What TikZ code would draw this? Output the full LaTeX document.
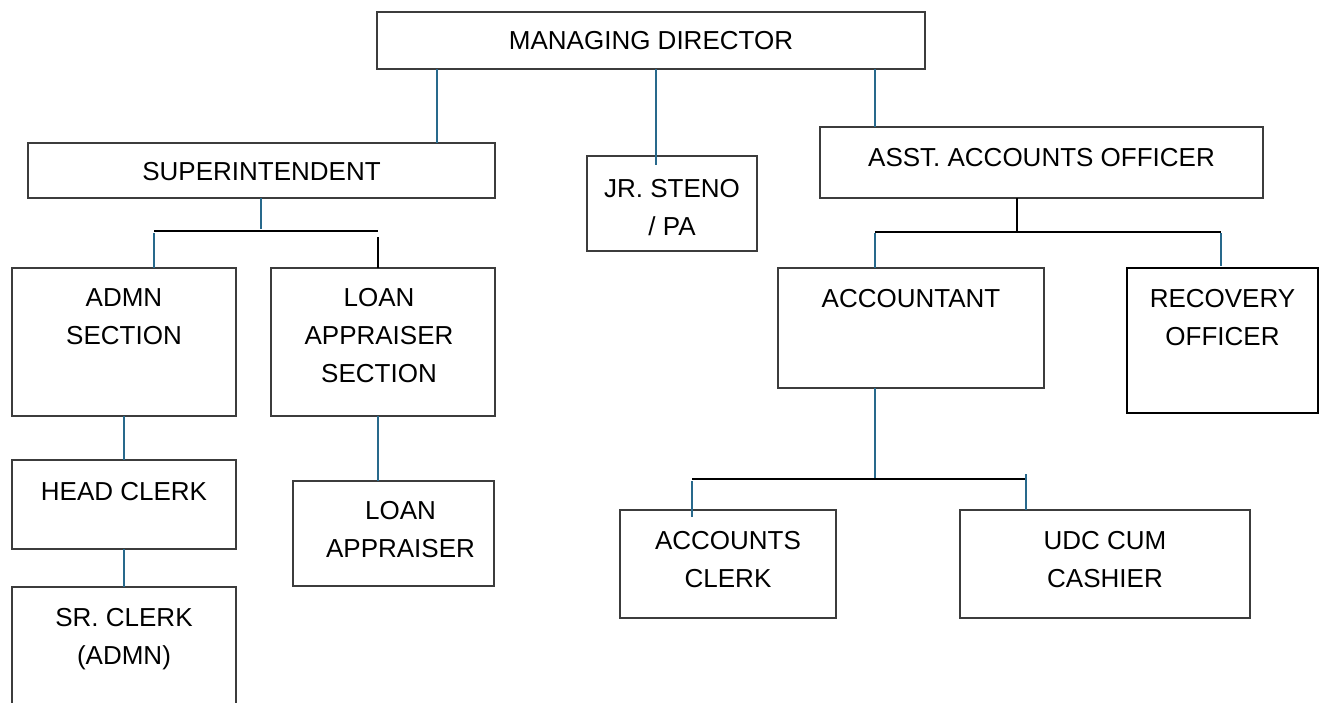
\documentclass[tikz,border=0pt]{standalone}
\usepackage{fontspec}
\setmainfont{Liberation Sans}
\usetikzlibrary{calc}
\definecolor{boxgray}{RGB}{60,60,60}
\definecolor{connblue}{RGB}{40,105,140}
\begin{document}
\begin{tikzpicture}[x=1pt,y=-1pt,
  box/.style={draw=boxgray, line width=1.4pt, inner sep=0pt, outer sep=0pt, anchor=north west, fill=none},
  txt/.style={font=\fontsize{26pt}{38pt}\selectfont, align=center, inner sep=0pt, anchor=north, text=black},
  conn/.style={draw=connblue, line width=1.3pt},
  bus/.style={draw=black, line width=2pt}]
\useasboundingbox (0,0) rectangle (1327,702);
\clip (0,0) rectangle (1327,702);
% boxes
\node[box, minimum width=548pt, minimum height=57pt] (md) at (377,12) {};
\node[box, minimum width=467pt, minimum height=55pt] (sup) at (28,143) {};
\node[box, minimum width=170pt, minimum height=95pt] (steno) at (587,156) {};
\node[box, minimum width=443pt, minimum height=71pt] (aao) at (820,127) {};
\node[box, minimum width=224pt, minimum height=148pt] (admn) at (12,268) {};
\node[box, minimum width=224pt, minimum height=148pt] (loan) at (271,268) {};
\node[box, minimum width=224pt, minimum height=89pt] (head) at (12,460) {};
\node[box, minimum width=224pt, minimum height=140pt] (sr) at (12,587) {};
\node[box, minimum width=201pt, minimum height=105pt] (la) at (293,481) {};
\node[box, minimum width=266pt, minimum height=120pt] (acc) at (778,268) {};
\node[box, draw=black, line width=2pt, minimum width=191pt, minimum height=145pt] (rec) at (1127,268) {};
\node[box, minimum width=216pt, minimum height=108pt] (ac) at (620,510) {};
\node[box, minimum width=290pt, minimum height=108pt] (udc) at (960,510) {};
% texts
\node[txt] (tmd) at ([yshift=-19pt]md.north) {MANAGING DIRECTOR};
\node[txt] (tsup) at ([yshift=-19pt]sup.north) {SUPERINTENDENT};
\node[txt] (tsteno) at ([yshift=-23pt]steno.north) {JR. STENO\\/ PA};
\node[txt] (taao) at ([yshift=-21pt]aao.north) {ASST. ACCOUNTS OFFICER};
\node[txt] (tadmn) at ([yshift=-20pt]admn.north) {ADMN\\SECTION};
\node[txt] (tloan) at ([xshift=-4pt,yshift=-20pt]loan.north) {LOAN\\APPRAISER\\SECTION};
\node[txt] (thead) at ([yshift=-22pt]head.north) {HEAD CLERK};
\node[txt] (tsr) at ([yshift=-21pt]sr.north) {SR. CLERK\\(ADMN)};
\node[txt] (tla) at ([xshift=7pt,yshift=-20pt]la.north) {LOAN\\APPRAISER};
\node[txt] (tacc) at ([yshift=-21pt]acc.north) {ACCOUNTANT};
\node[txt] (trec) at ([yshift=-21pt]rec.north) {RECOVERY\\OFFICER};
\node[txt] (tac) at ([yshift=-21pt]ac.north) {ACCOUNTS\\CLERK};
\node[txt] (tudc) at ([yshift=-21pt]udc.north) {UDC CUM\\CASHIER};
% helper coordinates
\coordinate (x1) at (437,0);
\coordinate (x2) at (656,0);
\coordinate (x3) at (875,0);
\coordinate (xs) at (261,0);
\coordinate (xa) at (154,0);
\coordinate (xl) at (378,0);
\coordinate (xm) at (1017,0);
\coordinate (xr) at (1221,0);
\coordinate (xc1) at (692,0);
\coordinate (xc2) at (1026,0);
\coordinate (b1) at (0,231);
\coordinate (b2) at (0,232);
\coordinate (b3) at (0,479);
% managing director connectors
\draw[conn] (md.south -| x1) -- (sup.north -| x1);
\draw[conn] (md.south -| x2) -- ($(steno.north -| x2)+(0,9)$);
\draw[conn] (md.south -| x3) -- (aao.north -| x3);
% superintendent
\draw[conn] (sup.south -| xs) -- ($(b1 -| xs)+(0,-2)$);
\draw[bus] (b1 -| xa) -- (b1 -| xl);
\draw[conn] ($(b1 -| xa)+(0,2)$) -- (admn.north -| xa);
\draw[bus, line width=1.7pt] ($(b1 -| xl)+(0,6)$) -- (loan.north -| xl);
\draw[conn] (admn.south) -- (head.north);
\draw[conn] (head.south) -- (sr.north);
\draw[conn] (loan.south -| xl) -- (la.north -| xl);
% asst accounts officer
\draw[bus, line width=1.5pt] (aao.south -| xm) -- (b2 -| xm);
\draw[bus] (b2 -| x3) -- (b2 -| xr);
\draw[conn] ($(b2 -| x3)+(0,1)$) -- (acc.north -| x3);
\draw[conn] ($(b2 -| xr)+(0,1)$) -- ($(rec.north -| xr)+(0,-2)$);
% accountant
\draw[conn] (acc.south -| x3) -- (b3 -| x3);
\draw[bus] (b3 -| xc1) -- (b3 -| xc2);
\draw[conn] ($(b3 -| xc1)+(0,2)$) -- ($(ac.north -| xc1)+(0,7)$);
\draw[conn] ($(b3 -| xc2)+(0,-5)$) -- (udc.north -| xc2);
\end{tikzpicture}
\end{document}
